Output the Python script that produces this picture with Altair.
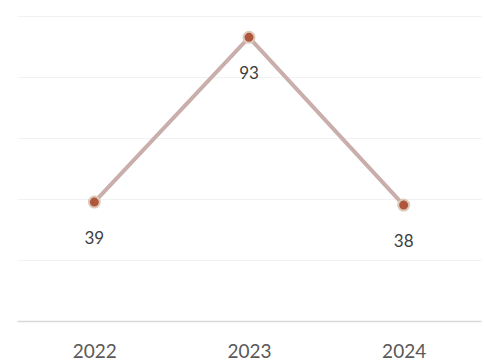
import altair as alt
import pandas as pd

years = ["2022", "2023", "2024"]
values = [39, 93, 38]

df = pd.DataFrame({"year": years, "value": values})

x = alt.X("year:N", title=None, sort=years,
          scale=alt.Scale(type="point", padding=0.5),
          axis=alt.Axis(labelAngle=0, labelFont="Lato", labelFontSize=19,
                        labelColor="#595959", labelPadding=21, ticks=False,
                        domainColor="#d9d9d9", domainWidth=1.5, grid=False))
y = alt.Y("value:Q", title=None,
          scale=alt.Scale(domain=[0, 100], nice=False),
          axis=alt.Axis(values=[0, 20, 40, 60, 80, 100], labels=False, ticks=False,
                        domain=False, grid=True, gridColor="#f2f2f2", gridWidth=1))

base = alt.Chart(df)
line = base.mark_line(color="#c9aeab", strokeWidth=4).encode(x=x, y=y)
pts = base.mark_point(filled=True, size=120, fill="#b0563f", stroke="#dccab8",
                      strokeWidth=2, opacity=1).encode(x=x, y=y)
labels = base.mark_text(dy=37, font="Lato", fontSize=17, color="#404040").encode(
    x=x, y=y, text="value:Q")

chart = (line + pts + labels).properties(
    width=464, height=305,
    autosize=alt.AutoSizeParams(type="none"),
    padding={"left": 17, "top": 16, "right": 3, "bottom": 42},
).configure_view(stroke=None)

chart.save("out.html", embed_options={"renderer": "svg", "actions": False})
